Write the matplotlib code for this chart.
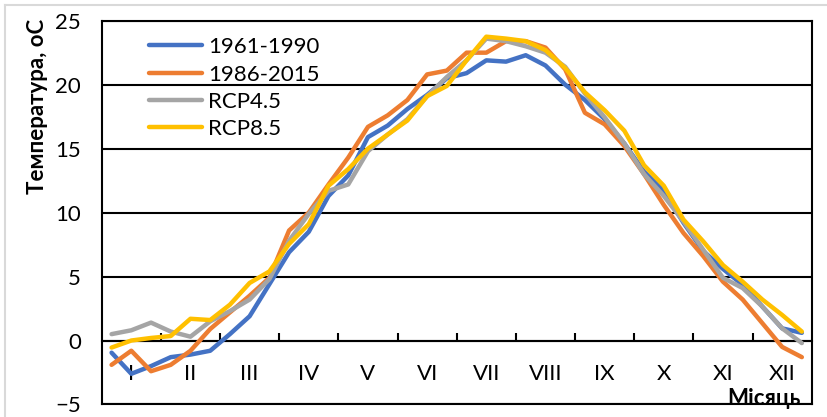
"""Decadal air temperature: observed periods vs RCP scenarios."""

import numpy as np
import matplotlib
matplotlib.use("Agg")
import matplotlib.pyplot as plt
from matplotlib.lines import Line2D

plt.rcParams["font.family"] = ["Lato", "Noto Sans", "DejaVu Sans"]

months = ["I", "II", "III", "IV", "V", "VI", "VII", "VIII", "IX", "X", "XI", "XII"]

# three decades per month
t_1961_1990 = [-0.95, -2.6, -2.0, -1.3, -1.1, -0.8, 0.5, 1.9, 4.4, 6.9, 8.5, 11.3,
               12.9, 15.9, 16.8, 18.1, 19.2, 20.5, 20.9, 21.9, 21.8, 22.3, 21.5, 20.0,
               18.8, 17.3, 15.4, 13.2, 11.7, 9.2, 7.0, 5.6, 4.35, 2.65, 0.95, 0.6]
t_1986_2015 = [-1.9, -0.8, -2.4, -1.9, -0.8, 0.9, 2.2, 3.5, 4.9, 8.6, 10.0, 12.2,
               14.3, 16.7, 17.6, 18.8, 20.8, 21.1, 22.5, 22.5, 23.4, 23.4, 22.9, 21.2,
               17.8, 16.9, 15.2, 13.0, 10.6, 8.4, 6.6, 4.6, 3.2, 1.35, -0.5, -1.3]
t_rcp45 = [0.5, 0.8, 1.4, 0.7, 0.3, 1.5, 2.3, 3.2, 4.8, 7.8, 9.9, 11.7,
           12.2, 14.8, 16.1, 17.3, 19.1, 20.6, 21.9, 23.6, 23.4, 23.0, 22.5, 21.4,
           19.3, 17.45, 15.4, 13.0, 11.3, 9.3, 7.1, 4.9, 4.1, 2.65, 0.95, -0.2]
t_rcp85 = [-0.55, 0.0, 0.2, 0.35, 1.7, 1.6, 2.8, 4.5, 5.4, 7.55, 9.1, 12.1,
           13.4, 15.0, 16.1, 17.2, 19.1, 19.9, 21.9, 23.75, 23.6, 23.4, 22.7, 21.3,
           19.4, 18.0, 16.4, 13.7, 12.1, 9.45, 7.75, 5.9, 4.6, 3.2, 2.0, 0.7]

series = [
    ("1961-1990", t_1961_1990, "#4472C4"),
    ("1986-2015", t_1986_2015, "#ED7D31"),
    ("RCP4.5", t_rcp45, "#A5A5A5"),
    ("RCP8.5", t_rcp85, "#FFC000"),
]

FS = 16

fig = plt.figure(figsize=(8.27, 4.17), dpi=100)
ax = fig.add_axes([0.1230, 0.0300, 0.8585, 0.9204])

x = np.arange(len(t_1961_1990))
for label, vals, color in series:
    ax.plot(x, vals, color=color, linewidth=3.2, label=label,
            solid_joinstyle="round", solid_capstyle="round", zorder=3)

ax.set_xlim(-0.5, len(x) - 0.5)
ax.set_ylim(-5, 25)

# horizontal gridlines (black, Excel style)
ax.set_yticks(np.arange(-5, 26, 5))
ax.yaxis.grid(True, color="black", linewidth=1.5)
ax.set_axisbelow(True)
ax.tick_params(axis="y", length=0, pad=15, labelsize=FS)

# category axis crosses at zero
ax.spines["bottom"].set_position(("data", 0))
ax.spines["bottom"].set_linewidth(1.5)
for s in ["left", "right", "top"]:
    ax.spines[s].set_linewidth(1.5)
ax.axhline(-5, color="black", linewidth=1.5, clip_on=False, zorder=4)

ax.set_xticks(np.arange(2.5, len(x) - 1, 3))
ax.set_xticklabels([])
ax.set_xticks(np.arange(1, len(x), 3), minor=True)
ax.set_xticklabels(months, minor=True)
ax.tick_params(axis="x", which="major", direction="in", length=6, width=1.5)
ax.tick_params(axis="x", which="minor", length=0, pad=17, labelsize=FS)

ax.set_xlabel("Місяць", fontsize=FS, fontweight="bold", ha="right")
ax.xaxis.set_label_coords(0.985, -0.012, transform=ax.transAxes)
ax.xaxis.label.set_va("bottom")

fig.text(0.045, 0.955, "Температура, оС", rotation=90, fontsize=FS,
         fontweight="bold", ha="center", va="top")

ax.legend(loc="upper left", bbox_to_anchor=(0.066, 0.957), frameon=False,
          fontsize=FS, handlelength=2.4, handletextpad=0.27, labelspacing=0.33,
          borderpad=0, borderaxespad=0)

# light frame of the chart area (only top and left visible in the crop)
fig.add_artist(Line2D([0.006, 1.0], [0.987, 0.987], transform=fig.transFigure,
                      color="#D9D9D9", linewidth=1.5))
fig.add_artist(Line2D([0.006, 0.006], [0.0, 0.987], transform=fig.transFigure,
                      color="#D9D9D9", linewidth=1.5))

fig.savefig("out.png", dpi=100)
